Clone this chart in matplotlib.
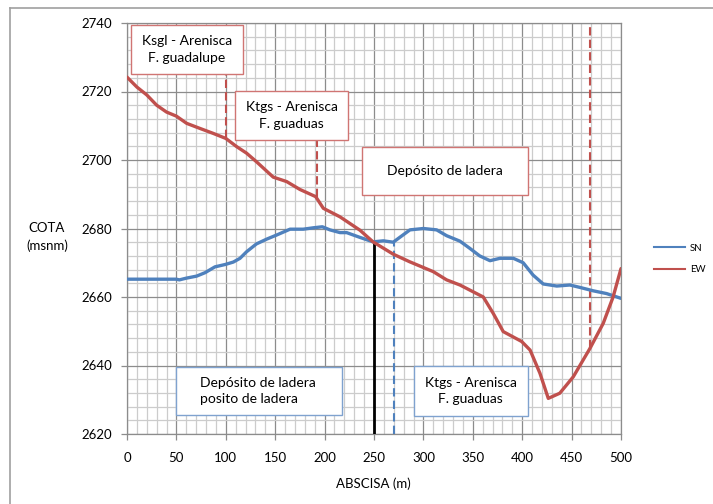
import matplotlib
matplotlib.use("Agg")
import matplotlib.pyplot as plt
from matplotlib.lines import Line2D
from matplotlib.patches import Rectangle
import numpy as np

plt.rcParams['font.family'] = ['Lato', 'DejaVu Sans']

# ---- data ----
sn_x = [0, 10, 20, 30, 40, 50, 53, 60, 70.5, 79, 89, 99.5, 107.6, 114.4, 121, 131, 141.4, 151.5,
        165, 178.4, 188.5, 197.7, 205.4, 215.6, 222.3, 235.8, 249, 259.5, 269.5, 274.6, 286.4,
        300, 313.4, 323.5, 337, 347, 357, 367.4, 377.5, 391, 401, 411, 421.3, 435, 448.3,
        458.4, 472, 485.4, 500]
sn_y = [2665.2, 2665.2, 2665.2, 2665.2, 2665.2, 2665.2, 2665.0, 2665.5, 2666.1, 2667.1, 2668.8,
        2669.5, 2670.2, 2671.3, 2673.2, 2675.5, 2676.9, 2678.1, 2679.8, 2679.8, 2680.2, 2680.5,
        2679.6, 2678.8, 2678.8, 2677.4, 2676.1, 2676.4, 2676.0, 2677.1, 2679.6, 2680.0, 2679.6,
        2677.9, 2676.3, 2674.2, 2672.0, 2670.6, 2671.3, 2671.3, 2670.0, 2666.4, 2663.8, 2663.2,
        2663.5, 2662.8, 2661.8, 2661.0, 2659.6]

ew_x = [0, 10, 20, 30, 40, 50, 60.4, 74, 87, 100, 111, 121, 131, 148, 161.6, 175, 191, 198.7,
        215.6, 235.8, 249, 269.5, 286, 310, 323.5, 337, 360.6, 370.7, 380.8, 399.5, 408, 418,
        426.4, 438, 451.7, 468.6, 482, 492, 500]
ew_y = [2724.2, 2721.3, 2719.0, 2716.0, 2714.0, 2712.8, 2710.7, 2709.2, 2707.8, 2706.3, 2703.9,
        2702.0, 2699.5, 2695.0, 2693.7, 2691.4, 2689.3, 2685.9, 2683.4, 2679.5, 2676.1, 2672.5,
        2670.3, 2667.4, 2665.0, 2663.5, 2660.0, 2655.2, 2649.9, 2647.0, 2644.5, 2637.7, 2630.4,
        2631.9, 2636.7, 2645.0, 2652.3, 2660.0, 2668.3]

x_ticks = [0, 50, 100, 150, 200, 250, 300, 350, 400, 450, 500]
y_ticks = [2620, 2640, 2660, 2680, 2700, 2720, 2740]

blue = '#4F81BD'
red = '#C0504D'

fig = plt.figure(figsize=(7.13, 5.04), dpi=100)
ax = fig.add_axes([127/713, 1-434/504, (621-127)/713, (434-23)/504])

ax.set_xlim(0, 500)
ax.set_ylim(2620, 2740)

# grid
for v in np.arange(0, 501, 10):
    major = (v % 50 == 0)
    ax.axvline(v, color='#8c8c8c' if major else '#cccccc', lw=0.9, zorder=0)
for v in np.arange(2620, 2741, 4):
    major = ((v - 2620) % 20 == 0)
    ax.axhline(v, color='#8c8c8c' if major else '#cccccc', lw=0.9, zorder=0)

# vertical markers
ax.plot([250, 250], [2620, 2676.1], color='black', lw=2.0, zorder=3)
ax.plot([270, 270], [2620, 2675.8], color=blue, lw=1.5, ls=(0, (4, 2)), zorder=3)
ax.plot([100, 100], [2706.4, 2725.1], color=red, lw=1.5, ls=(0, (4, 2)), zorder=3)
ax.plot([192, 192], [2689.3, 2705.8], color=red, lw=1.5, ls=(0, (4, 2)), zorder=3)
ax.plot([468.5, 468.5], [2645.0, 2740], color=red, lw=1.5, ls=(0, (4, 2)), zorder=3)

# series
ax.plot(sn_x, sn_y, color=blue, lw=2.4, solid_joinstyle='round', solid_capstyle='round',
        zorder=4, label='SN')
ax.plot(ew_x, ew_y, color=red, lw=2.4, solid_joinstyle='round', solid_capstyle='round',
        zorder=4, label='EW')

# annotation boxes (data coords)
def box(x0, x1, y0, y1, ec, text, ha='center', tx=None):
    ax.add_patch(Rectangle((x0, y0), x1 - x0, y1 - y0, facecolor='white', edgecolor=ec,
                           lw=1.0, zorder=5))
    if ha == 'center':
        ax.text((x0 + x1) / 2, (y0 + y1) / 2, text, ha='center', va='center', fontsize=10,
                linespacing=1.45, zorder=6)
    else:
        ax.text(tx, (y0 + y1) / 2, text, ha='left', va='center', fontsize=10,
                linespacing=1.45, zorder=6)

box(3.7, 117.6, 2725.1, 2739.4, '#d07573', 'Ksgl - Arenisca\nF. guadalupe')
box(109.6, 224, 2705.8, 2720.1, '#d07573', 'Ktgs - Arenisca\nF. guaduas')
box(237.5, 405.5, 2689.8, 2703.9, '#d07573', 'Depósito de ladera')
box(49.6, 217.5, 2625.6, 2639.5, '#7fa2cf', 'Depósito de ladera\nposito de ladera',
    ha='left', tx=73.5)
box(290.5, 405.5, 2625.4, 2639.8, '#7fa2cf', 'Ktgs - Arenisca\nF. guaduas')

# axes style
for s in ['top', 'right', 'left', 'bottom']:
    ax.spines[s].set_color('#8c8c8c')
    ax.spines[s].set_linewidth(0.9)
ax.set_xticks(x_ticks)
ax.set_yticks(y_ticks)
ax.tick_params(axis='both', direction='out', length=4, width=0.9, color='#8c8c8c',
               labelsize=9.5, pad=7)
ax.tick_params(axis='x', pad=9)

fig.text(47/713, 1-237/504, 'COTA\n(msnm)', ha='center', va='center', fontsize=9.5,
         linespacing=1.45)
fig.text(373/713, 1-484/504, 'ABSCISA (m)', ha='center', va='center', fontsize=9.5)

# legend
handles = [Line2D([0], [0], color=blue, lw=1.5), Line2D([0], [0], color=red, lw=1.5)]
fig.legend(handles, ['SN', 'EW'], loc='center left', bbox_to_anchor=(645/713, 1-259/504),
           frameon=False, fontsize=7, handlelength=3.2, labelspacing=1.3, handletextpad=0.5)

# chart-area border
fig.add_artist(Line2D([10/713, 10/713], [0, 1-8/504], color='#a0a0a0', lw=1.2,
                      transform=fig.transFigure))
fig.add_artist(Line2D([10/713, 1], [1-8/504, 1-8/504], color='#a0a0a0', lw=1.2,
                      transform=fig.transFigure))

fig.savefig('out.png', dpi=100)
